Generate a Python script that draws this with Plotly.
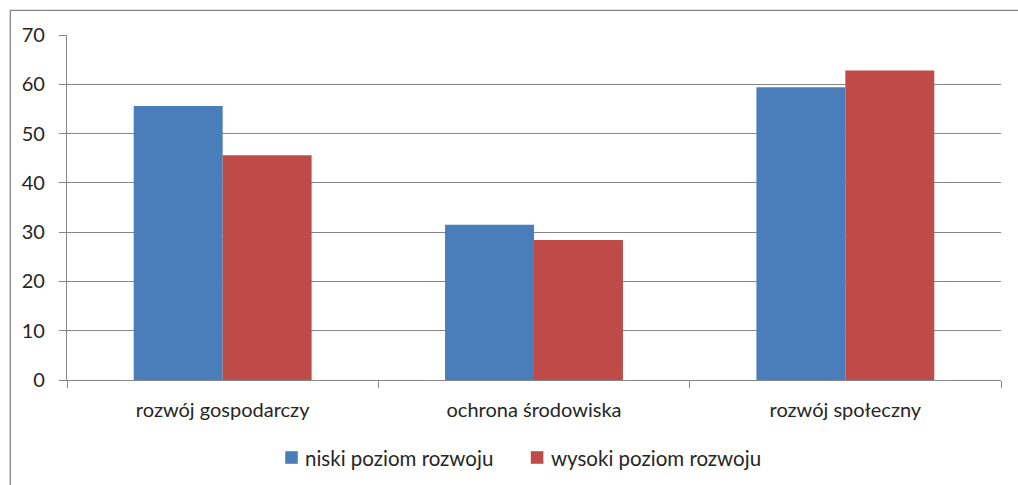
import plotly.graph_objects as go

categories = ["rozwój gospodarczy", "ochrona środowiska", "rozwój społeczny"]
series_names = ["niski poziom rozwoju", "wysoki poziom rozwoju"]
niski = [55.6, 31.5, 59.4]
wysoki = [45.6, 28.4, 62.8]
colors = ["#4a7ebb", "#be4b48"]
y_ticks = [0, 10, 20, 30, 40, 50, 60, 70]

W, H = 1018, 485
L, R, T, B = 67, 17, 35, 105
pw, ph = W - L - R, H - T - B


def px_x(px):
    return (px - L) / pw


def px_y(py):
    return 1 - (py - T) / ph


fig = go.Figure()
for name, vals, col in zip(series_names, [niski, wysoki], colors):
    fig.add_trace(go.Bar(x=categories, y=vals, name=name, showlegend=False,
                         marker=dict(color=col, line=dict(width=0))))

grid = "#868686"
text_col = "#262626"
font_family = "Lato, 'Open Sans', sans-serif"

fig.update_layout(
    width=W, height=H,
    margin=dict(l=L, r=R, t=T, b=B, autoexpand=False),
    paper_bgcolor="white", plot_bgcolor="white",
    barmode="group", bargap=0.4286, bargroupgap=0,
    font=dict(family=font_family, size=20, color=text_col),
    showlegend=False,
    xaxis=dict(showline=True, linecolor=grid, linewidth=1.3,
               ticks="outside", tickson="boundaries", ticklen=7,
               tickcolor=grid, tickwidth=1.3, showgrid=False,
               ticklabelstandoff=12),
    yaxis=dict(range=[0, 70], tickvals=y_ticks, showline=True,
               linecolor=grid, linewidth=1.3, showgrid=True,
               gridcolor=grid, gridwidth=1.3, ticks="outside",
               ticklen=7, tickcolor=grid, tickwidth=1.3,
               zeroline=False, ticklabelstandoff=10),
)

# legend: colour square followed by the series name
legend_left = [285.2, 530.8]
sq = 12.6
legend_cy = 457.5
for name, col, x0 in zip(series_names, colors, legend_left):
    fig.add_shape(type="rect", xref="paper", yref="paper",
                  x0=px_x(x0), x1=px_x(x0 + sq),
                  y0=px_y(legend_cy + sq / 2), y1=px_y(legend_cy - sq / 2),
                  fillcolor=col, line=dict(width=0))
    fig.add_annotation(xref="paper", yref="paper", x=px_x(x0 + sq + 5.5),
                       y=px_y(legend_cy), xanchor="left", yanchor="middle",
                       text=name, showarrow=False,
                       font=dict(size=20.5, color=text_col))

# chart frame around the whole figure
fig.add_shape(type="rect", xref="paper", yref="paper",
              x0=px_x(10.3), x1=px_x(W + 10),
              y0=px_y(H + 10), y1=px_y(10.3),
              line=dict(color=grid, width=1.3), layer="below")

fig.write_html("out.html")
